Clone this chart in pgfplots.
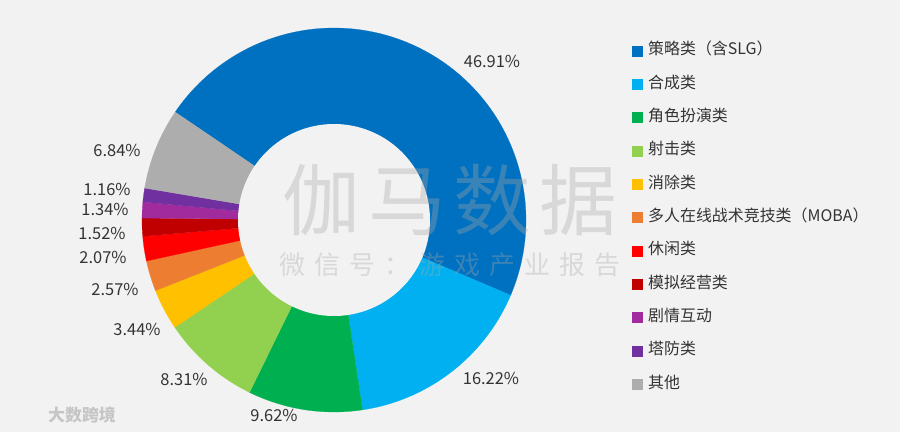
\documentclass[border=0pt]{standalone}
\usepackage{pgfplots}
\pgfplotsset{compat=1.18}
\usepackage{fontspec}
\setmainfont{Noto Sans CJK SC}
\definecolor{bg}{HTML}{F2F2F2}
\definecolor{txt}{HTML}{333333}
\definecolor{c1}{HTML}{0070C0}
\definecolor{c2}{HTML}{00B0F0}
\definecolor{c3}{HTML}{00B050}
\definecolor{c4}{HTML}{92D050}
\definecolor{c5}{HTML}{FFC000}
\definecolor{c6}{HTML}{ED7D31}
\definecolor{c7}{HTML}{FF0000}
\definecolor{c8}{HTML}{C00000}
\definecolor{c9}{HTML}{A12B9C}
\definecolor{c10}{HTML}{7030A0}
\definecolor{c11}{HTML}{ADADAD}
\definecolor{wm}{HTML}{A8A8A8}
% centre of the donut (image px, y up), radii, start angle
\def\cx{334}\def\cy{212}\def\Ro{192}\def\Ri{96}\def\St{145.8}
% #1 = cumulative share before the slice, #2 = share of the slice, #3 = colour
\newcommand{\donutwedge}[3]{%
  \addplot[fill=#3, draw=#3, line width=0.2pt,
    domain={\St-3.6*(#1+#2)}:{\St-3.6*(#1)}, samples=120]
    ({\cx+\Ro*cos(x)},{\cy+\Ro*sin(x)}) -- (axis cs:\cx,\cy) -- cycle;}
\begin{document}
\begin{tikzpicture}
\begin{axis}[
  scale only axis, width=900bp, height=432bp,
  xmin=0, xmax=900, ymin=0, ymax=432,
  axis lines=none, clip=false,
  axis background/.style={fill=bg},
  legend cell align=left,
  legend image code/.code={\fill[#1] (0bp,-5bp) rectangle (10bp,5bp);},
  legend style={at={(axis cs:632,389)}, anchor=north west, draw=none, fill=none,
    inner sep=0pt, outer sep=0pt, row sep=17.3bp,
    /tikz/every odd column/.append style={column sep=6bp},
    nodes={inner sep=0pt, text height=12bp, text depth=4bp,
      font=\fontsize{16}{16}\selectfont, text=txt}},
]
\donutwedge{0}{46.91}{c1}
\addlegendentry{策略类（含SLG）}
\donutwedge{46.91}{16.22}{c2}
\addlegendentry{合成类}
\donutwedge{63.13}{9.62}{c3}
\addlegendentry{角色扮演类}
\donutwedge{72.75}{8.31}{c4}
\addlegendentry{射击类}
\donutwedge{81.06}{3.44}{c5}
\addlegendentry{消除类}
\donutwedge{84.50}{2.57}{c6}
\addlegendentry{多人在线战术竞技类（MOBA）}
\donutwedge{87.07}{2.07}{c7}
\addlegendentry{休闲类}
\donutwedge{89.14}{1.52}{c8}
\addlegendentry{模拟经营类}
\donutwedge{90.66}{1.34}{c9}
\addlegendentry{剧情互动}
\donutwedge{92.00}{1.16}{c10}
\addlegendentry{塔防类}
\donutwedge{93.16}{6.84}{c11}
\addlegendentry{其他}
% hole
\addplot[fill=bg, draw=none, domain=0:360, samples=181, forget plot]
  ({\cx+\Ri*cos(x)},{\cy+\Ri*sin(x)}) -- cycle;
% data labels
\begin{scope}[every node/.style={font=\fontsize{16.5}{16.5}\selectfont, text=txt, inner sep=0pt}]
\node at (axis cs:492,371) {46.91\%};
\node at (axis cs:491,54) {16.22\%};
\node at (axis cs:274,17) {9.62\%};
\node at (axis cs:184,53) {8.31\%};
\node at (axis cs:137,103) {3.44\%};
\node at (axis cs:115,143) {2.57\%};
\node at (axis cs:103,175) {2.07\%};
\node at (axis cs:102,199) {1.52\%};
\node at (axis cs:105,223) {1.34\%};
\node at (axis cs:107,243) {1.16\%};
\node at (axis cs:117,282) {6.84\%};
\end{scope}
% watermark
\node[text=wm, opacity=0.35, font=\fontsize{78}{78}\selectfont, inner sep=0pt]
  at (axis cs:450,232) {伽\hspace{8bp}马\hspace{8bp}数\hspace{8bp}据};
\node[text=wm, opacity=0.35, font=\fontsize{26}{26}\selectfont, inner sep=0pt]
  at (axis cs:450,167) {微\hspace{9bp}信\hspace{9bp}号\hspace{9bp}：\hspace{9bp}游\hspace{9bp}戏\hspace{9bp}产\hspace{9bp}业\hspace{9bp}报\hspace{9bp}告};
\node[text=white, font=\fontsize{17}{17}\selectfont\bfseries, inner sep=0pt,
  draw=none] at (axis cs:82,17) {\textcolor{gray!45}{大数跨境}};
\end{axis}
\end{tikzpicture}
\end{document}
